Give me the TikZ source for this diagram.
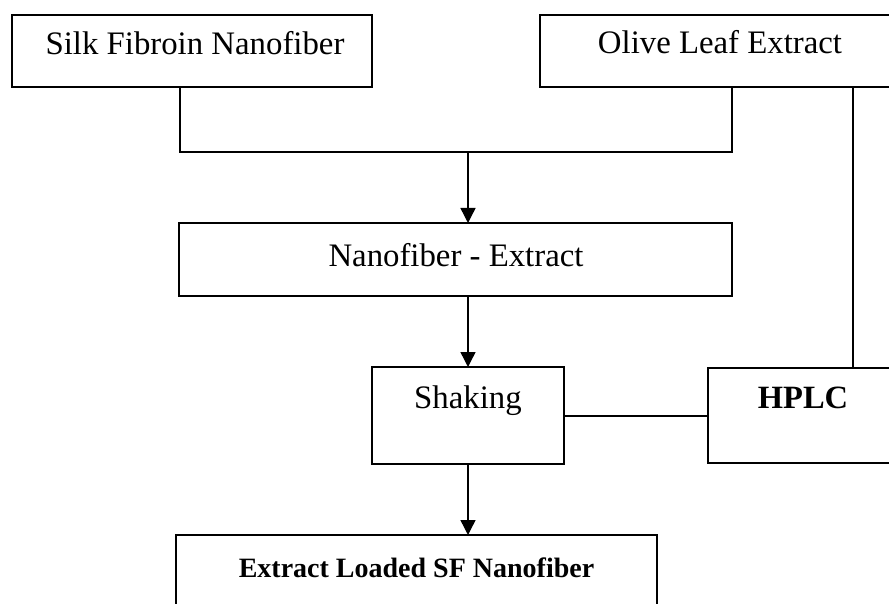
\documentclass[tikz,border=0pt]{standalone}
\usepackage{fontspec}
\setmainfont{Liberation Serif}
\usetikzlibrary{arrows.meta}
\begin{document}
\begin{tikzpicture}[x=1pt,y=-1pt,
  box/.style={draw,line width=1.4pt,rectangle,inner sep=0pt,outer sep=0pt},
  lbl/.style={anchor=base,inner sep=0pt,font=\fontsize{32.8}{38}\selectfont},
  blbl/.style={anchor=base,inner sep=0pt,font=\fontsize{32.5}{38}\selectfont\bfseries},
  conn/.style={line width=1.4pt},
  arr/.style={line width=1.4pt,-{Triangle[width=15pt,length=15pt]}}]
\clip (0,0) rectangle (889,604);
\fill[white] (0,0) rectangle (889,604);
% boxes
\node[box,minimum width=360pt,minimum height=72pt] (silk) at (192,51) {};
\node[box,minimum width=360pt,minimum height=72pt] (olive) at (720,51) {};
\node[box,minimum width=553pt,minimum height=73pt] (ne) at (455.5,259.5) {};
\node[box,minimum width=192pt,minimum height=97pt] (shake) at (468,415.5) {};
\node[box,minimum width=190pt,minimum height=95pt] (hplc) at (803,415.5) {};
\node[box,minimum width=481pt,minimum height=85pt] (final) at (416.5,577.5) {};
% texts
\node[lbl] (silkt) at (195,55) {Silk Fibroin Nanofiber};
\node[lbl] (olivet) at (720,54) {Olive Leaf Extract};
\node[lbl] (net) at (456,266) {Nanofiber - Extract};
\node[lbl] (shaket) at (468,408) {Shaking};
\node[blbl] (hplct) at (803,408) {HPLC};
\node[anchor=base,inner sep=0pt,font=\fontsize{28}{33}\selectfont\bfseries] (finalt) at (416.5,577) {Extract Loaded SF Nanofiber};
% connectors
\coordinate (m1) at (180,152);
\coordinate (m2) at (732,152);
\coordinate (mid) at (468,152);
\coordinate (r) at (853,87);
\coordinate (h) at (600,416);
\draw[conn] (silk.south -| m1) -- (m1) -- (m2) -- (olive.south -| m2);
\draw[arr] (mid) -- (mid |- ne.north);
\draw[arr] (shake.north |- ne.south) -- (shake.north);
\draw[conn] (shake.east |- h) -- (hplc.west |- h);
\draw[conn] (olive.south -| r) -- (hplc.north -| r);
\draw[arr] (shake.south) -- (shake.south |- final.north);
\end{tikzpicture}
\end{document}
